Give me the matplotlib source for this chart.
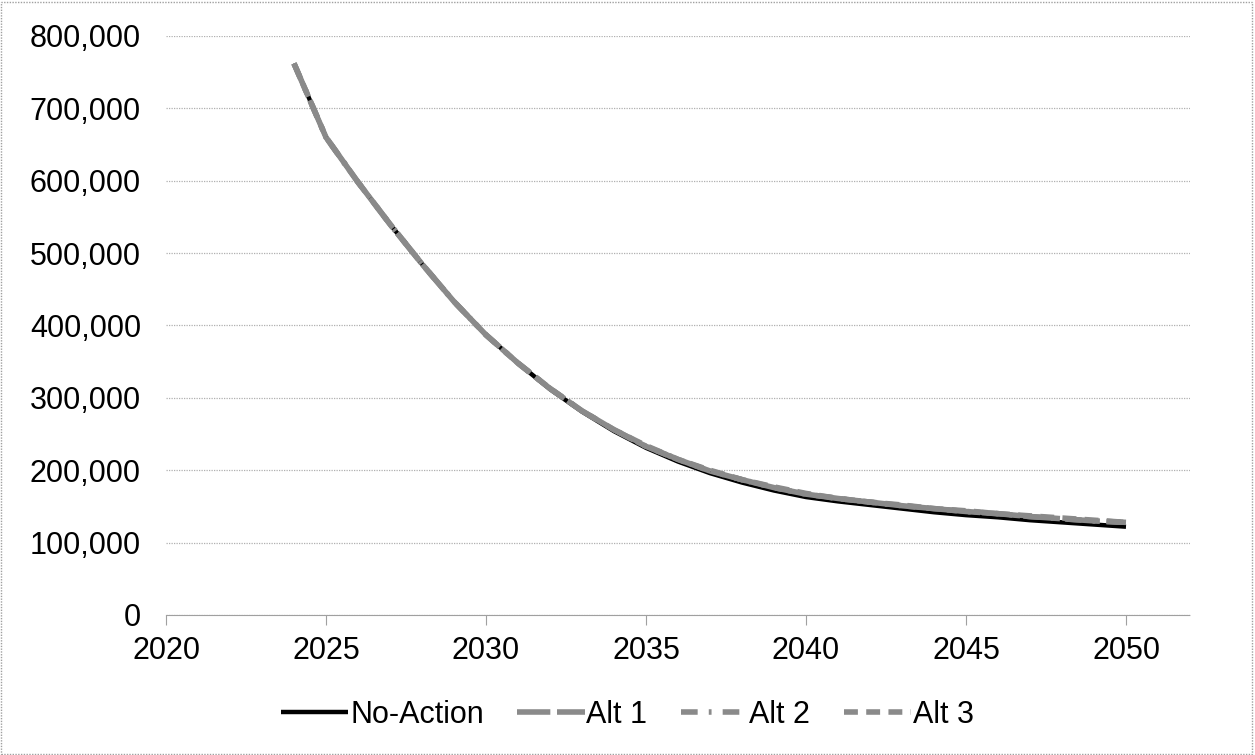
import numpy as np
import matplotlib.pyplot as plt
from matplotlib.patches import Rectangle
from matplotlib.ticker import FuncFormatter

plt.rcParams['font.family'] = ['Liberation Sans', 'DejaVu Sans']

years = list(range(2024, 2051))
no_action = [762000, 660000, 598000, 540000, 485000, 433000, 387000, 348000, 312000,
             281000, 254000, 231000, 212000, 196000, 183000, 172000, 163000, 157000,
             152000, 147000, 142000, 138000, 135000, 131000, 128000, 125000, 122000]
alt1 = [762000, 660000, 598000, 540000, 485000, 433000, 387000, 348000, 313000,
        282000, 256000, 233000, 215000, 199000, 187000, 176000, 167000, 161000,
        156000, 151000, 147000, 143000, 140000, 136000, 133000, 130000, 128000]
alt2 = [762000, 660000, 598000, 540000, 485000, 433000, 387000, 348000, 313000,
        282000, 256000, 233000, 215000, 199000, 187000, 176000, 167000, 161000,
        156000, 151000, 147000, 143000, 140000, 136000, 133000, 130000, 128000]
alt3 = [762000, 660000, 598000, 540000, 485000, 433000, 387000, 348000, 313000,
        282000, 256000, 234000, 215000, 200000, 187000, 177000, 168000, 161000,
        156000, 152000, 147000, 144000, 140000, 137000, 134000, 131000, 128000]

fig = plt.figure(figsize=(12.55, 7.55), dpi=100)
ax = fig.add_axes([166/1255, 1 - 615/755, (1190-166)/1255, (615-36)/755])

gray = '#8a8a8a'
ax.plot(years, no_action, color='black', lw=3.2, label='No-Action', zorder=3,
        solid_capstyle='butt')
ax.plot(years, alt1, color=gray, lw=4, dashes=(6, 1.2), label='Alt 1', zorder=4)
ax.plot(years, alt2, color=gray, lw=4, dashes=(3, 2, 0.5, 2), label='Alt 2', zorder=4)
ax.plot(years, alt3, color=gray, lw=4, dashes=(2.5, 1.5), label='Alt 3', zorder=4)

ax.set_xlim(2020, 2052)
ax.set_ylim(0, 800000)
ax.set_xticks(range(2020, 2051, 5))
ax.set_yticks(range(0, 800001, 100000))
ax.yaxis.set_major_formatter(FuncFormatter(lambda v, p: f'{int(v):,}'))
ax.grid(axis='y', color='#b0b0b0', lw=0.9, ls=(0, (1, 1)))
ax.set_axisbelow(True)
for s in ['top', 'right', 'left']:
    ax.spines[s].set_visible(False)
ax.spines['bottom'].set_color('#a0a0a0')
ax.spines['bottom'].set_linestyle((0, (1, 1)))
ax.tick_params(axis='y', length=0, pad=18, labelsize=22)
ax.tick_params(axis='x', length=7, color='#a0a0a0', pad=8, labelsize=22, direction='out')

fig.legend(loc='center', bbox_to_anchor=(0.5, 1 - 715/755), ncol=4, frameon=False,
           fontsize=22, handlelength=2.2, handletextpad=0.05, columnspacing=1.1)

fig.patches.append(Rectangle((0.001, 0.001), 0.997, 0.997, transform=fig.transFigure,
                             fill=False, ec='#a0a0a0', lw=1, ls=(0, (1, 1))))

fig.savefig('out.png', dpi=100)
